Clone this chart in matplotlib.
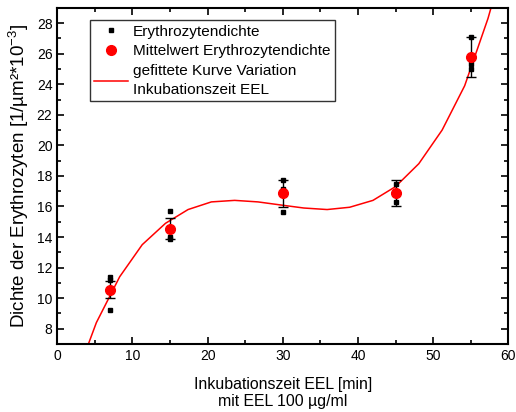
import matplotlib.pyplot as plt
from matplotlib.ticker import MultipleLocator

plt.rcParams['font.family'] = ['Liberation Sans', 'DejaVu Sans']
plt.rcParams['mathtext.fontset'] = 'custom'
plt.rcParams['mathtext.rm'] = 'Liberation Sans'
plt.rcParams['mathtext.it'] = 'Liberation Sans'

# raw measurements (black squares)
raw_x = [7, 7, 7, 15, 15, 15, 30, 30, 30, 45, 45, 45, 55, 55, 55]
raw_y = [11.4, 11.2, 9.25, 15.7, 14.0, 13.9, 17.75, 17.15, 15.65,
         17.45, 16.9, 16.3, 25.0, 25.3, 27.1]

# means with error bars
mean_x = [7, 15, 30, 45, 55]
mean_y = [10.55, 14.55, 16.85, 16.9, 25.8]
mean_err = [0.55, 0.68, 0.87, 0.85, 1.3]

# fitted curve vertices
fit_x = [2.1, 5.2, 8.3, 11.3, 14.4, 17.4, 20.5, 23.6, 26.7, 29.7, 32.8,
         35.9, 38.9, 42.0, 45.0, 48.1, 51.2, 54.2, 57.3, 60.3]
fit_y = [4.3, 8.4, 11.4, 13.5, 14.9, 15.8, 16.3, 16.4, 16.3, 16.1, 15.9,
         15.8, 15.95, 16.4, 17.3, 18.8, 21.0, 23.9, 28.3, 33.5]

fig = plt.figure(figsize=(5.16, 4.12), dpi=100)
ax = fig.add_axes([0.111, 0.165, 0.874, 0.816])

ax.plot(raw_x, raw_y, 's', color='black', markersize=2.2, linestyle='none',
        label='Erythrozytendichte', zorder=3)
ax.errorbar(mean_x, mean_y, yerr=mean_err, fmt='none', ecolor='black',
            elinewidth=1, capsize=3.5, capthick=1, zorder=2)
ax.plot(mean_x, mean_y, 'o', color='red', markersize=7, linestyle='none',
        label='Mittelwert Erythrozytendichte', zorder=4)
ax.plot(fit_x, fit_y, '-', color='red', linewidth=1.1,
        label='gefittete Kurve Variation\nInkubationszeit EEL', zorder=1)

ax.set_xlim(0, 60)
ax.set_ylim(7, 29)
ax.xaxis.set_major_locator(MultipleLocator(10))
ax.xaxis.set_minor_locator(MultipleLocator(5))
ax.yaxis.set_major_locator(MultipleLocator(2))
ax.yaxis.set_minor_locator(MultipleLocator(1))
ax.set_yticks([8, 10, 12, 14, 16, 18, 20, 22, 24, 26, 28])

ax.tick_params(which='both', direction='in', top=True, right=True,
               labelsize=10, width=1.2)
ax.tick_params(which='major', length=5)
ax.tick_params(which='minor', length=3)
for s in ax.spines.values():
    s.set_linewidth(1.5)

ax.set_xlabel('Inkubationszeit EEL [min]\nmit EEL 100 µg/ml', fontsize=11.4,
              linespacing=1.2, labelpad=10)
ax.set_ylabel('Dichte der Erythrozyten [1/µm²*10$^{-3}$]', fontsize=13.5,
              labelpad=4)

leg = ax.legend(loc='upper left', bbox_to_anchor=(0.072, 0.964), fontsize=11.1,
                frameon=True, fancybox=False, borderaxespad=0, borderpad=0.3,
                handlelength=2.2, handletextpad=0.3, labelspacing=0.38)
leg.get_frame().set_edgecolor('black')
leg.get_frame().set_linewidth(1)
leg.get_texts()[2].set_linespacing(1.4)

fig.savefig('out.png', dpi=100)
